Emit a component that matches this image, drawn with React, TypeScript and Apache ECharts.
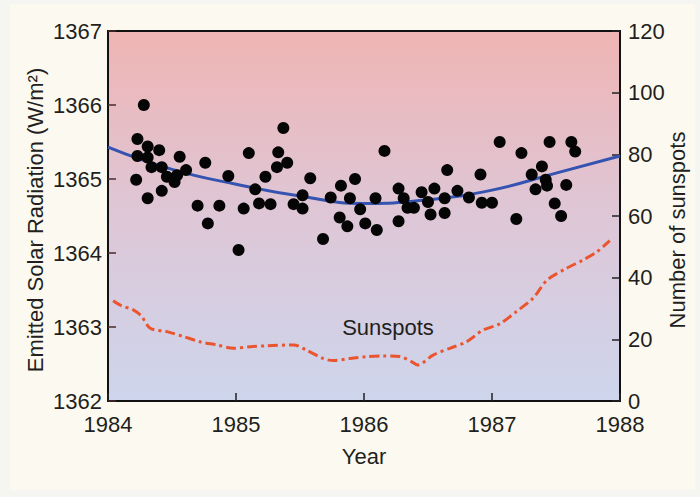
import React, { useEffect, useRef } from "react";
import * as echarts from "echarts";

const xTickYears = [1984, 1985, 1986, 1987, 1988];

const radiationYears = [
  1984.22, 1984.23, 1984.23, 1984.28, 1984.31, 1984.31, 1984.31, 1984.34, 1984.4, 1984.42,
  1984.42, 1984.46, 1984.52, 1984.54, 1984.56, 1984.61, 1984.7, 1984.76, 1984.78, 1984.87,
  1984.94, 1985.02, 1985.06, 1985.1, 1985.15, 1985.18, 1985.23, 1985.27, 1985.32, 1985.33,
  1985.37, 1985.4, 1985.45, 1985.52, 1985.52, 1985.58, 1985.68, 1985.74, 1985.82, 1985.81,
  1985.87, 1985.89, 1985.93, 1985.97, 1986.01, 1986.09, 1986.1, 1986.16, 1986.27, 1986.27,
  1986.31, 1986.34, 1986.39, 1986.45, 1986.5, 1986.52, 1986.55, 1986.63, 1986.63, 1986.65,
  1986.73, 1986.82, 1986.91, 1986.92, 1987.0, 1987.06, 1987.19, 1987.23, 1987.31, 1987.34,
  1987.39, 1987.42, 1987.43, 1987.45, 1987.49, 1987.54, 1987.58, 1987.62, 1987.65,
];
const radiationValues = [
  1364.99, 1365.54, 1365.31, 1366.0, 1365.44, 1365.29, 1364.74, 1365.16, 1365.39, 1365.16,
  1364.84, 1365.03, 1364.96, 1365.05, 1365.3, 1365.12, 1364.64, 1365.22, 1364.4, 1364.64,
  1365.04, 1364.04, 1364.6, 1365.35, 1364.86, 1364.67, 1365.03, 1364.66, 1365.16, 1365.36,
  1365.69, 1365.22, 1364.66, 1364.6, 1364.78, 1365.01, 1364.19, 1364.75, 1364.91, 1364.48,
  1364.36, 1364.74, 1365.0, 1364.59, 1364.4, 1364.74, 1364.31, 1365.38, 1364.87, 1364.43,
  1364.74, 1364.61, 1364.61, 1364.82, 1364.69, 1364.52, 1364.87, 1364.74, 1364.54, 1365.12,
  1364.84, 1364.75, 1365.06, 1364.68, 1364.68, 1365.5, 1364.46, 1365.35, 1365.06, 1364.86,
  1365.17, 1364.99, 1364.91, 1365.5, 1364.67, 1364.5, 1364.92, 1365.5, 1365.37,
];

const trendYears = [1984, 1984.5, 1985, 1985.5, 1986, 1986.5, 1987, 1987.5, 1988];
const trendValues = [1365.43, 1365.13, 1364.93, 1364.77, 1364.67, 1364.72, 1364.85, 1365.08, 1365.31];

const sunspotYears = [
  1984.04, 1984.1, 1984.2, 1984.26, 1984.33, 1984.46, 1984.59, 1984.72, 1984.85, 1984.98,
  1985.11, 1985.24, 1985.45, 1985.55, 1985.68, 1985.76, 1985.89, 1986.02, 1986.15, 1986.28,
  1986.37, 1986.42, 1986.54, 1986.67, 1986.8, 1986.93, 1987.06, 1987.19, 1987.32, 1987.43,
  1987.58, 1987.71, 1987.82, 1987.92,
];
const sunspotCounts = [
  32.5, 31, 29.5, 27.6, 23.6, 22.5, 20.9, 19.2, 18.2, 17.1,
  17.6, 17.9, 18.2, 16.5, 13.8, 13.1, 13.8, 14.4, 14.6, 14.4,
  12.8, 11.7, 14.9, 17.1, 19.2, 23.0, 25.0, 29.0, 33.3, 39.2,
  43.0, 45.7, 48.4, 52.0,
];

const FONT = "'Liberation Sans', Arial, Helvetica, sans-serif";
const TEXT = "#231f20";
const FS = 22;

export default function App() {
  const ref = useRef<HTMLDivElement>(null);
  useEffect(() => {
    document.body.style.margin = "0";
    const chart = echarts.init(ref.current!, undefined, { renderer: "svg" });
    const scatter = radiationYears.map((y, i) => [y, radiationValues[i]]);
    const trend = trendYears.map((y, i) => [y, trendValues[i]]);
    const spots = sunspotYears.map((y, i) => [y, sunspotCounts[i]]);
    chart.setOption({
      animation: false,
      backgroundColor: "#f5f5f2",
      textStyle: { fontFamily: FONT },
      graphic: [
        {
          type: "rect",
          z: -10,
          shape: { x: 10, y: 4, width: 685, height: 486 },
          style: { fill: "#fcfaf0" },
        },
        {
          type: "text",
          x: 35,
          y: 220,
          rotation: Math.PI / 2,
          style: {
            text: "Emitted Solar Radiation (W/m²)",
            fill: TEXT,
            font: `${FS}px ${FONT}`,
            align: "center",
            verticalAlign: "middle",
          },
        },
        {
          type: "text",
          x: 677,
          y: 230,
          rotation: Math.PI / 2,
          style: {
            text: "Number of sunspots",
            fill: TEXT,
            font: `${FS}px ${FONT}`,
            align: "center",
            verticalAlign: "middle",
          },
        },
        {
          type: "text",
          x: 388,
          y: 327,
          z: 10,
          style: {
            text: "Sunspots",
            fill: TEXT,
            font: `${FS}px ${FONT}`,
            align: "center",
            verticalAlign: "middle",
          },
        },
      ],
      grid: {
        left: 108,
        right: 80,
        top: 31,
        bottom: 96,
        show: true,
        borderColor: "#111",
        borderWidth: 2,
        backgroundColor: {
          type: "linear",
          x: 0,
          y: 0,
          x2: 0,
          y2: 1,
          colorStops: [
            { offset: 0, color: "#efb4b3" },
            { offset: 0.5, color: "#dec7d7" },
            { offset: 1, color: "#cdd5ec" },
          ],
        },
      },
      xAxis: {
        type: "value",
        min: xTickYears[0],
        max: xTickYears[xTickYears.length - 1],
        interval: 1,
        name: "Year",
        nameLocation: "middle",
        nameGap: 44,
        nameTextStyle: { fontSize: FS, color: TEXT, fontFamily: FONT },
        splitLine: { show: false },
        axisLine: { show: true, lineStyle: { color: "#111", width: 2 } },
        axisTick: { show: true, inside: true, length: 8, lineStyle: { color: "#222", width: 1.5 } },
        axisLabel: { fontSize: FS, color: TEXT, margin: 12, formatter: (v: number) => String(v) },
      },
      yAxis: [
        {
          type: "value",
          min: 1362,
          max: 1367,
          interval: 1,
          position: "left",
          splitLine: { show: false },
          axisLine: { show: true, lineStyle: { color: "#111", width: 2 } },
          axisTick: { show: true, inside: true, length: 8, lineStyle: { color: "#4a2a2a", width: 1.5 } },
          axisLabel: { fontSize: FS, color: TEXT, margin: 6, formatter: (v: number) => String(v) },
        },
        {
          type: "value",
          min: 0,
          max: 120,
          interval: 20,
          position: "right",
          splitLine: { show: false },
          axisLine: { show: true, lineStyle: { color: "#111", width: 2 } },
          axisTick: { show: true, inside: true, length: 8, lineStyle: { color: "#222", width: 1.5 } },
          axisLabel: { fontSize: FS, color: TEXT, margin: 8, formatter: (v: number) => String(v) },
        },
      ],
      series: [
        {
          type: "line",
          yAxisIndex: 1,
          data: spots,
          showSymbol: false,
          smooth: 0.3,
          lineStyle: { color: "#ea5530", width: 3, type: [10, 4, 3, 4] },
          z: 3,
        },
        {
          type: "line",
          yAxisIndex: 0,
          data: trend,
          showSymbol: false,
          smooth: true,
          lineStyle: { color: "#3553b0", width: 3 },
          z: 4,
        },
        {
          type: "scatter",
          yAxisIndex: 0,
          data: scatter,
          symbolSize: 12,
          itemStyle: { color: "#050505", opacity: 1 },
          z: 5,
        },
      ],
    });
    return () => chart.dispose();
  }, []);
  return <div ref={ref} style={{ width: 700, height: 497 }} />;
}
